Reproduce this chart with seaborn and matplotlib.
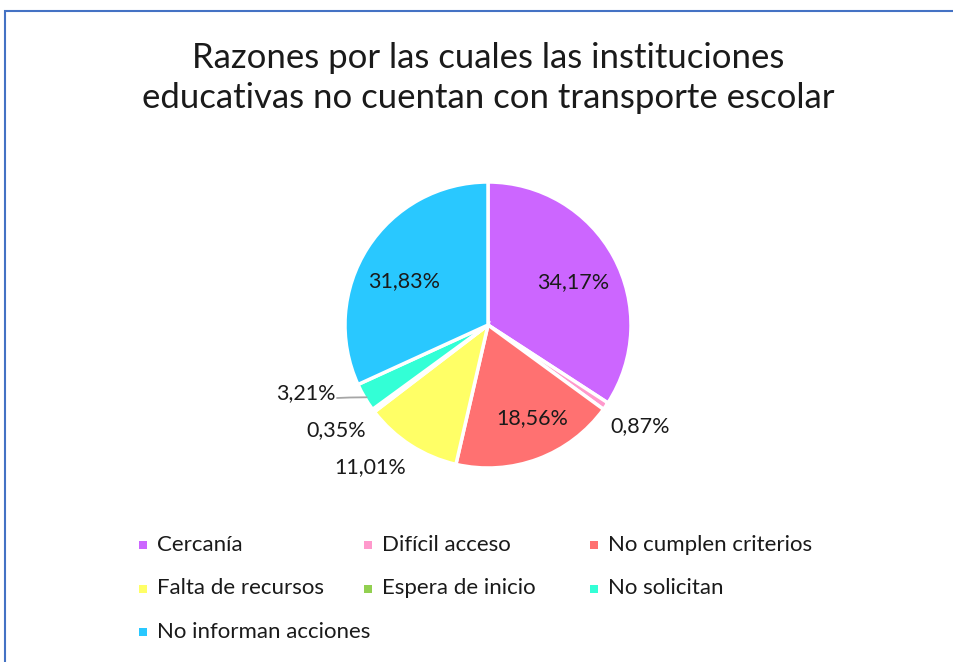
import numpy as np
import seaborn as sns
import matplotlib.pyplot as plt
from matplotlib.patches import Rectangle

# data
categories = ['Cercanía', 'Difícil acceso', 'No cumplen criterios',
              'Falta de recursos', 'Espera de inicio', 'No solicitan',
              'No informan acciones']
values = [34.17, 0.87, 18.56, 11.01, 0.35, 3.21, 31.83]
labels = ['34,17%', '0,87%', '18,56%', '11,01%', '0,35%', '3,21%', '31,83%']
colors = ['#CC66FF', '#FF99CC', '#FF7171', '#FFFF66', '#92D050', '#33FFD6', '#29C8FF']

sns.set_theme(style='white')
plt.rcParams['font.family'] = ['Lato', 'DejaVu Sans']

W, H = 954, 662
fig = plt.figure(figsize=(W / 100, H / 100), dpi=100)
ax = fig.add_axes([0, 0, 1, 1])

cx, cy, R = 488, H - 325, 143
wedges, _ = ax.pie(values, colors=colors, startangle=90, counterclock=False,
                   center=(cx, cy), radius=R, frame=True,
                   wedgeprops=dict(edgecolor='white', linewidth=2.5))
ax.set_xlim(0, W)
ax.set_ylim(0, H)
ax.set_aspect('equal')
ax.axis('off')

# chart frame
ax.add_patch(Rectangle((5, -20), W + 40, H - 11 + 20, fill=False,
                       edgecolor='#4472C4', lw=1.5))

# label placement (distance as fraction of radius, angle tweak in degrees)
dist = [0.67, 1.28, 0.72, 1.29, 1.29, 1.36, 0.66]
tweak = [-1.7, 1, 5, -7, -2, -10, 5]
for w, lab, d, t in zip(wedges, labels, dist, tweak):
    ang = np.deg2rad((w.theta1 + w.theta2) / 2 + t)
    ax.text(cx + d * R * np.cos(ang), cy + d * R * np.sin(ang), lab,
            ha='center', va='center', fontsize=15.5, color='#1a1a1a')

# leader line for 3,21%
w = wedges[5]
ang = np.deg2rad((w.theta1 + w.theta2) / 2)
ax.plot([337, 350, cx + R * np.cos(ang) + 2], [H - 398, H - 397.5, cy + R * np.sin(ang)],
        color='#A6A6A6', lw=1.3)

# title
fig.text(488 / W, 1 - 78 / H,
         'Razones por las cuales las instituciones\neducativas no cuentan con transporte escolar',
         ha='center', va='center', fontsize=25, color='#1a1a1a', linespacing=1.33)

# legend drawn as 3 columns
for i, (name, c) in enumerate(zip(categories, colors)):
    col, row = i % 3, i // 3
    x = 143 + col * 225.5
    y = H - (545 + row * 43.5)
    ax.add_patch(Rectangle((x - 4, y - 4), 8, 8, color=c, lw=0))
    ax.text(x + 14, y, name, ha='left', va='center', fontsize=16, color='#1a1a1a')

fig.savefig('out.png', dpi=100)
